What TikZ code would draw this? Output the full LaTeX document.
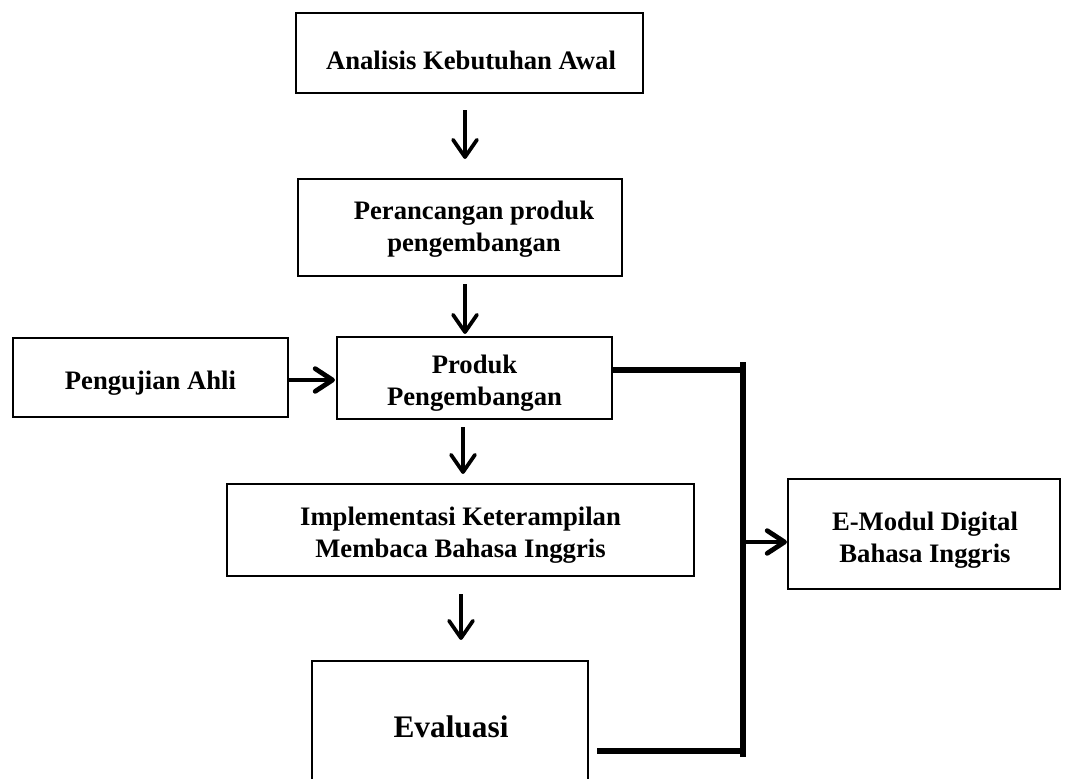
\documentclass[tikz,border=0pt]{standalone}
\usepackage{fontspec}
\setmainfont{Liberation Serif}
\usetikzlibrary{arrows.meta}
\begin{document}
\begin{tikzpicture}[x=0.75pt,y=-0.75pt,
  box/.style={draw, line width=1.6pt, inner sep=0pt, rectangle},
  txt/.style={inner sep=0pt, align=center, font=\fontsize{20}{24}\selectfont\bfseries},
  varrow/.style={line width=2.8pt, -{Straight Barb[length=13pt,width=18pt,line cap=round,line join=round]}},
  harrow/.style={line width=3.6pt, -{Straight Barb[length=13pt,width=17pt,line cap=round,line join=round]}},
  conn/.style={line width=3.8pt}]
\useasboundingbox (0,0) rectangle (1066,778);
\clip (0,0) rectangle (1066,778);

% boxes
\node[box, minimum width=260.25pt, minimum height=60pt] (b1) at (469.5,53) {};
\node[txt] (t1) at (471,60) {Analisis Kebutuhan Awal};
\node[box, minimum width=243pt, minimum height=72.75pt] (b2) at (460,227.5) {};
\node[txt] (t2) at (474,229) {Perancangan produk\\pengembangan};
\node[box, minimum width=206.25pt, minimum height=59.25pt] (uji) at (150.5,377.5) {};
\node[txt] (t3) at (150.5,383) {Pengujian Ahli};
\node[box, minimum width=206.25pt, minimum height=61.5pt] (prod) at (474.5,378) {};
\node[txt] (t4) at (474.5,383) {Produk\\Pengembangan};
\node[box, minimum width=350.25pt, minimum height=69pt] (impl) at (460.5,530) {};
\node[txt] (t5) at (460.5,535) {Implementasi Keterampilan\\Membaca Bahasa Inggris};
\node[box, minimum width=207pt, minimum height=99pt] (eval) at (450,727) {};
\node[txt, font=\fontsize{23.5}{28}\selectfont\bfseries] (t6) at (451,727) {Evaluasi};
\node[box, minimum width=204pt, minimum height=82.5pt] (emod) at (924,534) {};
\node[txt] (t7) at (925,540) {E-Modul Digital\\Bahasa Inggris};

% helper coordinates
\coordinate (ax) at (465,0);
\coordinate (ax3) at (463,0);
\coordinate (ax4) at (461,0);
\coordinate (j1) at (743,370);
\coordinate (jtop) at (743,362);
\coordinate (jbot) at (743,757);
\coordinate (j2) at (743,751);
\coordinate (j3) at (743,542);
\coordinate (hy) at (0,380);

% vertical arrows
\draw[varrow, shorten <=12pt, shorten >=14.25pt] (b1.south -| ax) -- (b2.north -| ax);
\draw[varrow, shorten <=5.25pt, shorten >=1.5pt] (b2.south -| ax) -- (prod.north -| ax);
\draw[varrow, shorten <=5.25pt, shorten >=6.75pt] (prod.south -| ax3) -- (impl.north -| ax3);
\draw[varrow, shorten <=12.75pt, shorten >=15pt] (impl.south -| ax4) -- (eval.north -| ax4);

% horizontal arrow
\draw[harrow, shorten >=0.75pt] (uji.east |- hy) -- (prod.west |- hy);

% connector to E-Modul
\draw[conn] (prod.east |- j1) -- (j1);
\draw[conn] (jtop) -- (jbot);
\draw[conn, shorten <=6pt] (eval.east |- j2) -- (j2);
\draw[harrow] (j3) -- (emod.west |- j3);
\end{tikzpicture}
\end{document}
